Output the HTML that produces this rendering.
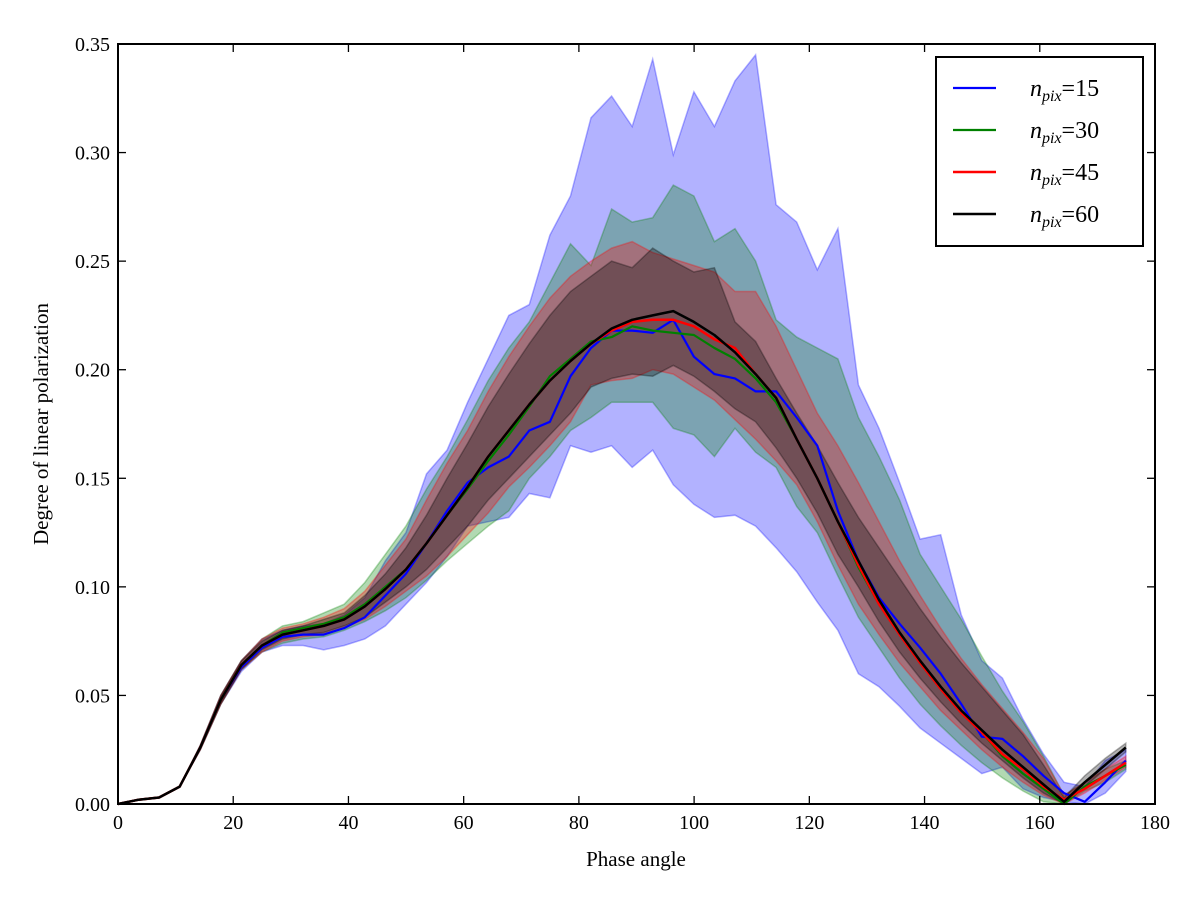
<!DOCTYPE html>
<html><head><meta charset="utf-8"><style>
body{margin:0;background:#fff;}
svg text{font-family:"Liberation Serif",serif;fill:#000;}
</style></head><body>
<svg id="chart" width="1200" height="903" xmlns="http://www.w3.org/2000/svg">
<g id="bands"></g>
<g id="lines"></g>
<rect x="118" y="44" width="1037" height="760" fill="none" stroke="#000" stroke-width="2"/>
<g id="ticks"></g>
<text x="636" y="866" font-size="21" text-anchor="middle">Phase angle</text>
<text transform="translate(48,424) rotate(-90)" font-size="21" text-anchor="middle">Degree of linear polarization</text>
<g>
<rect x="936" y="57" width="207" height="189" fill="#fff" stroke="#000" stroke-width="2"/>
<g id="legend-items"></g>
</g>
</svg>
<script>
const angles=[0,3.57,7.14,10.71,14.28,17.85,21.42,24.99,28.56,32.13,35.7,39.27,42.84,46.41,49.98,53.55,57.12,60.69,64.26,67.83,71.4,74.97,78.54,82.11,85.68,89.25,92.82,96.39,99.96,103.53,107.1,110.67,114.24,117.81,121.38,124.95,128.52,132.09,135.66,139.23,142.8,146.37,149.94,153.51,157.08,160.65,164.22,167.79,171.36,174.93];
const blueMean=[0,.002,.003,.008,.026,.048,.063,.072,.077,.078,.078,.081,.086,.096,.106,.120,.135,.148,.155,.160,.172,.176,.197,.210,.218,.218,.217,.223,.206,.198,.196,.190,.190,.178,.165,.135,.112,.095,.083,.072,.060,.046,.031,.030,.022,.013,.005,.001,.010,.020];
const blueUpper=[0,.002,.003,.008,.027,.050,.066,.076,.080,.082,.083,.087,.095,.112,.125,.152,.163,.185,.205,.225,.230,.262,.280,.316,.326,.312,.343,.299,.328,.312,.333,.345,.276,.268,.246,.265,.193,.173,.148,.122,.124,.087,.066,.058,.039,.023,.010,.008,.020,.025];
const blueLower=[0,.002,.003,.008,.025,.046,.061,.070,.073,.073,.071,.073,.076,.082,.092,.102,.114,.128,.130,.132,.143,.141,.165,.162,.165,.155,.163,.147,.138,.132,.133,.128,.118,.107,.093,.080,.060,.054,.045,.035,.028,.021,.014,.017,.007,.003,.001,.000,.005,.015];
const greenMean=[0,.002,.003,.008,.026,.048,.064,.073,.079,.081,.083,.086,.092,.100,.108,.120,.133,.145,.158,.170,.183,.197,.205,.213,.215,.220,.218,.217,.216,.210,.205,.196,.185,.168,.150,.130,.109,.092,.078,.065,.053,.042,.033,.022,.014,.007,.000,.008,.013,.018];
const greenUpper=[0,.002,.003,.008,.027,.050,.066,.076,.082,.084,.088,.092,.102,.115,.128,.145,.160,.177,.195,.210,.222,.240,.258,.248,.274,.268,.270,.285,.280,.259,.265,.250,.223,.215,.210,.205,.178,.160,.140,.115,.100,.085,.068,.052,.038,.022,.004,.010,.016,.020];
const greenLower=[0,.002,.003,.008,.025,.046,.062,.070,.074,.076,.077,.080,.084,.089,.095,.103,.112,.120,.128,.135,.150,.160,.172,.178,.185,.185,.185,.173,.170,.160,.173,.162,.155,.137,.125,.105,.086,.072,.058,.046,.036,.027,.019,.012,.006,.001,.000,.006,.010,.016];
const redMean=[0,.002,.003,.008,.026,.048,.064,.073,.078,.080,.082,.085,.091,.099,.108,.120,.133,.146,.160,.172,.184,.195,.204,.212,.218,.222,.223,.223,.220,.214,.210,.198,.187,.168,.150,.130,.110,.092,.078,.065,.053,.042,.033,.023,.016,.008,.002,.007,.013,.019];
const redUpper=[0,.002,.003,.008,.027,.050,.066,.076,.081,.083,.086,.090,.098,.110,.122,.140,.157,.172,.190,.206,.220,.233,.243,.250,.256,.259,.254,.251,.248,.245,.236,.236,.220,.200,.180,.165,.148,.130,.112,.096,.081,.067,.055,.044,.033,.021,.004,.010,.016,.022];
const redLower=[0,.002,.003,.008,.025,.046,.062,.070,.075,.077,.078,.081,.085,.091,.098,.105,.114,.124,.134,.146,.155,.165,.176,.193,.195,.196,.200,.198,.192,.186,.177,.168,.158,.147,.130,.110,.092,.078,.065,.054,.043,.034,.025,.017,.010,.004,.000,.005,.011,.017];
const blackMean=[0,.002,.003,.008,.026,.048,.064,.073,.078,.080,.082,.085,.091,.099,.108,.120,.133,.146,.160,.172,.184,.195,.204,.212,.219,.223,.225,.227,.222,.216,.208,.198,.187,.168,.150,.130,.112,.094,.079,.066,.054,.043,.034,.025,.017,.009,.001,.010,.018,.026];
const blackUpper=[0,.002,.003,.008,.027,.050,.066,.075,.080,.082,.085,.088,.096,.106,.118,.133,.150,.166,.183,.198,.212,.225,.236,.243,.250,.247,.256,.250,.245,.247,.222,.213,.196,.180,.165,.148,.132,.118,.104,.090,.077,.065,.054,.043,.032,.018,.003,.013,.021,.028];
const blackLower=[0,.002,.003,.008,.025,.046,.062,.071,.076,.078,.079,.082,.086,.093,.100,.108,.118,.128,.140,.150,.160,.170,.180,.192,.196,.198,.197,.202,.197,.190,.182,.176,.164,.150,.134,.115,.100,.084,.070,.058,.047,.037,.028,.020,.012,.005,.000,.008,.016,.024];
const seriesLabels=["15","30","45","60"];
const xTicks=[0,20,40,60,80,100,120,140,160,180];
const yTicks=[0,0.05,0.10,0.15,0.20,0.25,0.30,0.35];

const NS="http://www.w3.org/2000/svg";
const X0=118,X1=1155,Y0=804,Y1=44;
function sx(v){return X0+(v/180)*(X1-X0);}
function sy(v){return Y0-(v/0.35)*(Y0-Y1);}
function mk(tag,attrs,parent){const e=document.createElementNS(NS,tag);for(const k in attrs)e.setAttribute(k,attrs[k]);parent.appendChild(e);return e;}
const series=[
 {m:blueMean,u:blueUpper,l:blueLower,c:"#0000ff",w:2.2},
 {m:greenMean,u:greenUpper,l:greenLower,c:"#008000",w:2.2},
 {m:redMean,u:redUpper,l:redLower,c:"#ff0000",w:2.5},
 {m:blackMean,u:blackUpper,l:blackLower,c:"#000000",w:2.5}];
const bands=document.getElementById('bands'),lines=document.getElementById('lines');
series.forEach((s,i)=>{
 let d="M"+angles.map((a,j)=>sx(a).toFixed(1)+","+sy(s.u[j]).toFixed(1)).join("L");
 for(let j=angles.length-1;j>=0;j--)d+="L"+sx(angles[j]).toFixed(1)+","+sy(s.l[j]).toFixed(1);
 d+="Z";
 const p=mk('path',{d:d,fill:s.c,'fill-opacity':0.3,stroke:s.c,'stroke-opacity':0.3,'stroke-width':1.5},bands);
 
 
});
series.forEach((s,i)=>{
 const pts=angles.map((a,j)=>sx(a).toFixed(1)+","+sy(s.m[j]).toFixed(1)).join(" ");
 const p=mk('polyline',{points:pts,fill:'none',stroke:s.c,'stroke-width':s.w,'stroke-linejoin':'round'},lines);
 
 
});
const tg=document.getElementById('ticks');
xTicks.forEach(v=>{
 const x=sx(v);
 mk('line',{x1:x,y1:Y0,x2:x,y2:Y0-8,stroke:'#000','stroke-width':1.3},tg);
 mk('line',{x1:x,y1:Y1,x2:x,y2:Y1+8,stroke:'#000','stroke-width':1.3},tg);
 const t=mk('text',{x:x,y:Y0+25,'font-size':20,'text-anchor':'middle'},tg);
 t.textContent=v;
 
 
});
yTicks.forEach(v=>{
 const y=sy(v);
 mk('line',{x1:X0,y1:y,x2:X0+8,y2:y,stroke:'#000','stroke-width':1.3},tg);
 mk('line',{x1:X1,y1:y,x2:X1-8,y2:y,stroke:'#000','stroke-width':1.3},tg);
 const t=mk('text',{x:X0-8,y:y+7,'font-size':20,'text-anchor':'end'},tg);
 t.textContent=v.toFixed(2);
 
 
});
const lg=document.getElementById('legend-items');
series.forEach((s,i)=>{
 const y=88+i*42;
 const l=mk('line',{x1:953,y1:y,x2:996,y2:y,stroke:s.c,'stroke-width':s.w},lg);
 
 
 const t=mk('text',{x:1030,y:y+8,'font-size':24},lg);
 t.innerHTML='<tspan font-style="italic">n</tspan><tspan font-style="italic" font-size="16" dy="5">pix</tspan><tspan dy="-5">='+seriesLabels[i]+'</tspan>';
 
 
});
</script>
</body></html>
